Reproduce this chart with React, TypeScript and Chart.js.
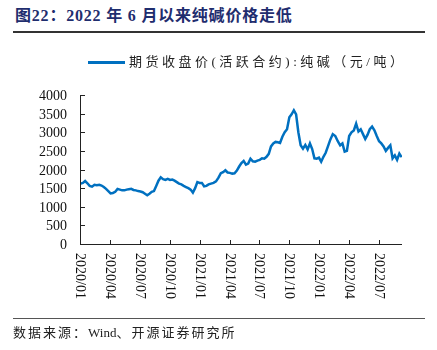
import React, { useEffect, useRef } from "react";
import { Chart, registerables } from "chart.js";

Chart.register(...registerables);

const TITLE = "图22：2022 年 6 月以来纯碱价格走低";
const SERIES_NAME = "期货收盘价(活跃合约):纯碱（元/吨）";
const SOURCE_PARTS = ["数据来源：", "Wind", "、开源证券研究所"];

const START_DATE = "2020-01-03"; // weekly observations from this date
const PRICES = [
  1620, 1640, 1690, 1630, 1560, 1540, 1590, 1580, 1590, 1570,
  1530, 1480, 1420, 1360, 1370, 1400, 1480, 1460, 1440, 1440,
  1460, 1470, 1480, 1450, 1440, 1420, 1410, 1390, 1350, 1310,
  1350, 1400, 1420, 1560, 1700, 1790, 1740, 1720, 1750, 1720,
  1730, 1700, 1660, 1620, 1600, 1560, 1530, 1500, 1460, 1380,
  1500, 1660, 1640, 1640, 1550, 1560, 1600, 1620, 1640, 1680,
  1780, 1900, 1930, 1980, 1920, 1910, 1890, 1900, 1970, 2080,
  2170, 2230, 2130, 2160, 2290, 2220, 2210, 2240, 2260, 2300,
  2290, 2340, 2420, 2620, 2700, 2740, 2730, 2710, 2880, 3000,
  3080, 3400, 3480, 3590, 3480, 3000, 2650, 2560, 2660, 2540,
  2700, 2550, 2300, 2290, 2320, 2210, 2340, 2450, 2620, 2800,
  2950, 2900, 2760, 2650, 2700, 2480, 2500, 2900, 3000, 3050,
  3230, 3020, 3080, 2950, 2820, 2930, 3080, 3150, 3050, 2900,
  2760, 2700, 2620, 2500, 2580, 2650, 2300, 2380, 2260, 2430,
  2330,
];

const X_TICK_LABELS = [
  "2020/01", "2020/04", "2020/07", "2020/10",
  "2021/01", "2021/04", "2021/07", "2021/10",
  "2022/01", "2022/04", "2022/07",
];
const Y_TICKS = [0, 500, 1000, 1500, 2000, 2500, 3000, 3500, 4000];

const SERIF = "'Liberation Serif', 'Times New Roman', 'Noto Sans CJK SC', serif";

// month index since 2020/01
function monthPos(d: Date): number {
  const y = d.getUTCFullYear();
  const m = d.getUTCMonth();
  const days = new Date(Date.UTC(y, m + 1, 0)).getUTCDate();
  return (y - 2020) * 12 + m + (d.getUTCDate() - 1) / days;
}
function labelPos(s: string): number {
  const [y, m] = s.split("/").map(Number);
  return (y - 2020) * 12 + (m - 1);
}

export default function App() {
  const canvasRef = useRef<HTMLCanvasElement>(null);

  useEffect(() => {
    if (!canvasRef.current) return;
    const start = new Date(START_DATE + "T00:00:00Z");
    const points = PRICES.map((v, i) => {
      const d = new Date(start.getTime() + i * 7 * 86400000);
      return { x: monthPos(d), y: v };
    });

    const axesPlugin = {
      id: "customAxes",
      afterDraw(chart: any) {
        const ctx = chart.ctx;
        const xs = chart.scales.x;
        const ys = chart.scales.y;
        const area = chart.chartArea;
        ctx.save();
        ctx.strokeStyle = "#222";
        ctx.lineWidth = 1;
        ctx.beginPath();
        ctx.moveTo(area.left + 0.5, ys.getPixelForValue(4000));
        ctx.lineTo(area.left + 0.5, area.bottom + 0.5);
        ctx.lineTo(area.right, area.bottom + 0.5);
        ctx.stroke();
        // y ticks
        ctx.fillStyle = "#111";
        ctx.font = `14px ${SERIF}`;
        ctx.textAlign = "right";
        ctx.textBaseline = "middle";
        Y_TICKS.forEach((v) => {
          const py = Math.round(ys.getPixelForValue(v)) + 0.5;
          ctx.beginPath();
          ctx.moveTo(area.left, py);
          ctx.lineTo(area.left + 5, py);
          ctx.stroke();
          ctx.fillText(String(v), area.left - 13, py + 1);
        });
        // x ticks
        ctx.textAlign = "left";
        X_TICK_LABELS.forEach((lab) => {
          const px = Math.round(xs.getPixelForValue(labelPos(lab))) + 0.5;
          ctx.beginPath();
          ctx.moveTo(px, area.bottom);
          ctx.lineTo(px, area.bottom - 4);
          ctx.stroke();
          ctx.save();
          ctx.translate(px - 1, area.bottom + 9);
          ctx.rotate(Math.PI / 2);
          ctx.fillText(lab, 0, 0);
          ctx.restore();
        });
        ctx.restore();
      },
    };

    const chart = new Chart(canvasRef.current, {
      type: "line",
      data: {
        datasets: [
          {
            label: SERIES_NAME,
            data: points,
            borderColor: "#0070C0",
            borderWidth: 2.5,
            pointRadius: 0,
            tension: 0,
          },
        ],
      },
      options: {
        animation: false,
        responsive: false,
        maintainAspectRatio: false,
        layout: { padding: { left: 80, top: 95, right: 35, bottom: 106 } },
        plugins: { legend: { display: false }, tooltip: { enabled: false } },
        scales: {
          x: { type: "linear", min: 0, max: 32.3, display: false },
          y: { type: "linear", min: 0, max: 4000, display: false },
        },
      },
      plugins: [axesPlugin],
    });
    return () => chart.destroy();
  }, []);

  return (
    <div style={{ position: "fixed", left: 0, top: 0, width: 437, height: 350, background: "#fff", overflow: "hidden" }}>
      <div
        style={{
          position: "absolute", left: 15, top: 6, fontFamily: SERIF, fontWeight: "bold",
          fontSize: 16, letterSpacing: 0.8, color: "#1f2d6e", whiteSpace: "nowrap", lineHeight: "20px",
        }}
      >
        {TITLE}
      </div>
      <div style={{ position: "absolute", left: 13, top: 31, width: 412, height: 1.5, background: "#333" }} />
      <canvas ref={canvasRef} width={437} height={350} style={{ position: "absolute", left: 0, top: 0 }} />
      <div style={{ position: "absolute", left: 88, top: 61, width: 37, height: 3, background: "#0070C0" }} />
      <div
        style={{
          position: "absolute", left: 129, top: 53, fontFamily: SERIF, fontSize: 13,
          letterSpacing: 3.5, color: "#222", whiteSpace: "nowrap", lineHeight: "18px",
        }}
      >
        {SERIES_NAME}
      </div>
      <div style={{ position: "absolute", left: 13, top: 318, width: 412, height: 1, background: "#555" }} />
      <div
        style={{
          position: "absolute", left: 13, top: 324, fontFamily: SERIF, fontSize: 13,
          color: "#222", whiteSpace: "nowrap", lineHeight: "18px",
        }}
      >
        <span style={{ letterSpacing: 2 }}>{SOURCE_PARTS[0]}</span>
        <span>{SOURCE_PARTS[1]}</span>
        <span style={{ letterSpacing: 2 }}>{SOURCE_PARTS[2]}</span>
      </div>
    </div>
  );
}
